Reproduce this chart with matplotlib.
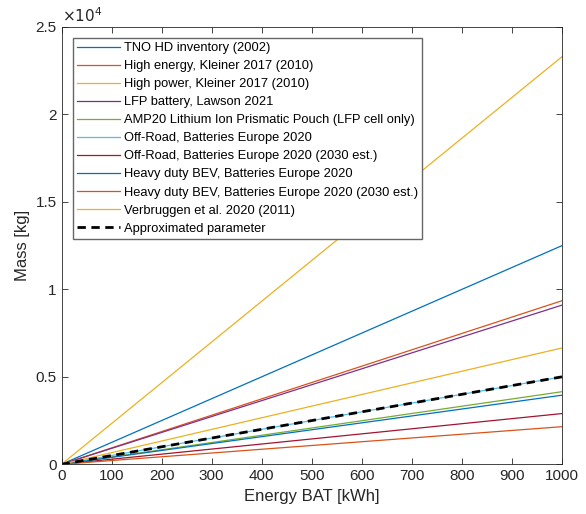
import matplotlib
matplotlib.use("Agg")
import matplotlib.pyplot as plt
import numpy as np

plt.rcParams['font.family'] = ['Liberation Sans', 'DejaVu Sans']

labels = [
    "TNO HD inventory (2002)",
    "High energy, Kleiner 2017 (2010)",
    "High power, Kleiner 2017 (2010)",
    "LFP battery, Lawson 2021",
    "AMP20 Lithium Ion Prismatic Pouch (LFP cell only)",
    "Off-Road, Batteries Europe 2020",
    "Off-Road, Batteries Europe 2020 (2030 est.)",
    "Heavy duty BEV, Batteries Europe 2020",
    "Heavy duty BEV, Batteries Europe 2020 (2030 est.)",
    "Verbruggen et al. 2020 (2011)",
]
# mass per kWh (kg/kWh)
slopes = [12.5, 9.35, 23.3, 9.1, 4.15, 5.0, 2.9, 3.95, 2.15, 6.65]
approx_slope = 5.0
energy = [0, 1000]

colors = [(0, 0.447, 0.741), (0.85, 0.325, 0.098), (0.929, 0.694, 0.125),
          (0.494, 0.184, 0.556), (0.466, 0.674, 0.188), (0.301, 0.745, 0.933),
          (0.635, 0.078, 0.184)]

fig = plt.figure(figsize=(5.86, 5.14), dpi=100)
ax = fig.add_axes([0.105, 0.0967, 0.854, 0.8508])

e = np.array(energy)
for i, (lab, s) in enumerate(zip(labels, slopes)):
    ax.plot(e, e * s, color=colors[i % 7], lw=0.9, label=lab)
ax.plot(e, e * approx_slope, 'k--', lw=2.0, dashes=(3, 2), label="Approximated parameter")

ax.set_xlim(0, 1000)
ax.set_ylim(0, 25000)
ax.set_xticks(np.arange(0, 1001, 100))
ax.set_yticks(np.arange(0, 25001, 5000))
ax.set_yticklabels(["0", "0.5", "1", "1.5", "2", "2.5"])
ax.text(0, 1.005, r"$\times10^4$", transform=ax.transAxes, fontsize=11,
        color=(0.15, 0.15, 0.15), ha='left', va='bottom')

gray = (0.15, 0.15, 0.15)
for sp in ax.spines.values():
    sp.set_color(gray)
    sp.set_linewidth(0.6)
ax.tick_params(direction='in', top=True, right=True, colors=gray, labelsize=11,
               length=4, width=0.6, labelcolor=gray)
ax.set_xlabel("Energy BAT [kWh]", fontsize=12, color=gray)
ax.set_ylabel("Mass [kg]", fontsize=12, color=gray)

leg = ax.legend(loc='upper left', bbox_to_anchor=(0.0225, 0.9755), fontsize=9.25,
                frameon=True, fancybox=False, handlelength=3.3, handletextpad=0.3,
                labelspacing=0.47, borderpad=0.35, borderaxespad=0.0)
leg.get_frame().set_edgecolor((0.4, 0.4, 0.4))
leg.get_frame().set_linewidth(1.0)
leg.get_frame().set_alpha(1)

fig.savefig("out.png", dpi=100)
